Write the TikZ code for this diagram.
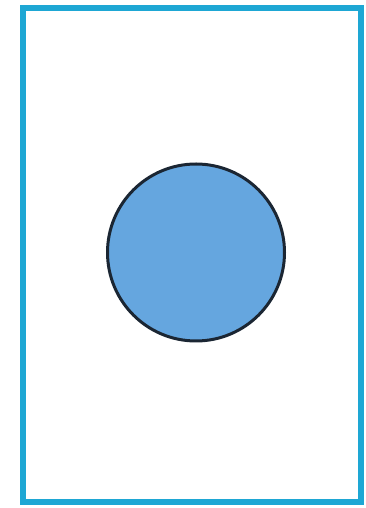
\documentclass[tikz,border=0pt]{standalone}
\definecolor{framecyan}{HTML}{1EA7D4}
\definecolor{ballblue}{HTML}{65A6DF}
\definecolor{balledge}{HTML}{1B2633}
\begin{document}
\begin{tikzpicture}[x=1pt,y=1pt,
  framebox/.style={draw=framecyan,line width=5.5pt},
  ball/.style={circle,draw=balledge,fill=ballblue,line width=3pt,minimum size=177pt,inner sep=0pt}]
\useasboundingbox (0,0) rectangle (366,508);
\draw[framebox] (23,6) rectangle (361,500);
\node[ball] (b) at (196,255.5) {};
\end{tikzpicture}
\end{document}
